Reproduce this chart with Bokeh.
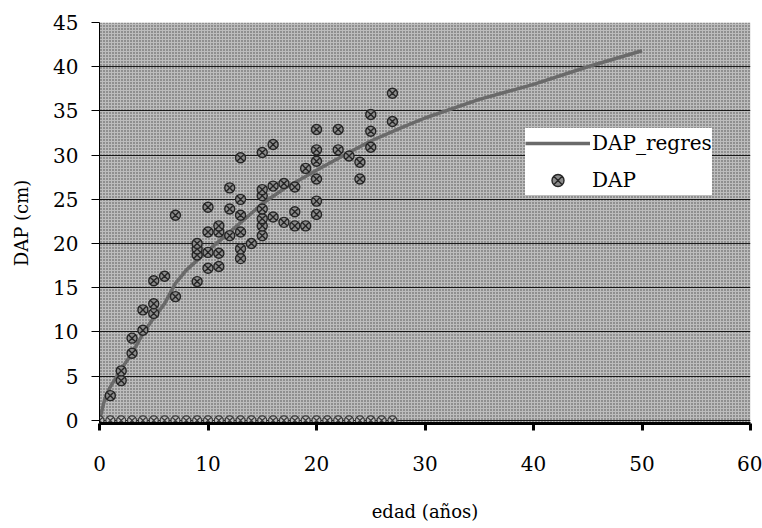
from bokeh.plotting import figure
from bokeh.models import Range1d, FixedTicker, BoxAnnotation, Legend, LegendItem
from bokeh.embed import file_html
from bokeh.resources import INLINE

# --- data ---
edad = [1, 2, 2, 3, 3, 4, 4, 5, 5, 5, 6, 7, 7,
        9, 9, 9, 9, 10, 10, 10, 10, 11, 11, 11, 11,
        12, 12, 12, 13, 13, 13, 13, 13, 13, 14,
        15, 15, 15, 15, 15, 15, 15, 16, 16, 16, 17, 17,
        18, 18, 18, 19, 19, 20, 20, 20, 20, 20, 20,
        22, 22, 23, 24, 24, 25, 25, 25, 27, 27]
dap = [2.8, 4.5, 5.6, 7.6, 9.3, 10.2, 12.5, 12.1, 13.2, 15.8, 16.3, 14.0, 23.2,
       15.7, 18.7, 19.4, 20.0, 17.2, 19.0, 21.3, 24.1, 17.4, 18.9, 21.3, 22.0,
       20.9, 23.9, 26.3, 18.3, 19.4, 21.3, 23.2, 25.0, 29.7, 20.0,
       20.9, 22.0, 22.8, 23.9, 25.4, 26.1, 30.3, 23.0, 26.5, 31.2, 22.4, 26.8,
       22.0, 23.6, 26.4, 22.0, 28.5, 23.3, 24.8, 27.3, 29.3, 30.6, 32.9,
       30.6, 32.9, 29.9, 27.3, 29.2, 30.9, 32.7, 34.6, 33.8, 37.0]

edad_cero = [0, 1, 2, 3, 4, 5, 6, 7, 8, 9, 10, 11, 12, 13,
             14, 15, 16, 17, 18, 19, 20, 21, 22, 23, 24, 25, 26, 27]
dap_cero = [0, 0, 0, 0, 0, 0, 0, 0, 0, 0, 0, 0, 0, 0,
            0, 0, 0, 0, 0, 0, 0, 0, 0, 0, 0, 0, 0, 0]

reg_edad = [0, 0.5, 1, 2, 3, 4, 5, 6, 7, 8, 10, 12, 15, 17, 20, 23, 25, 28, 30, 35, 40, 45, 50]
reg_dap = [0, 2.5, 3.8, 5.8, 7.6, 9.8, 11.6, 13.2, 15.5, 17.0, 19.2, 21.3, 24.5, 26.2,
           28.3, 30.3, 31.6, 33.2, 34.2, 36.3, 38.0, 40.0, 41.8]

x_ticks = [0, 10, 20, 30, 40, 50, 60]
y_ticks = [0, 5, 10, 15, 20, 25, 30, 35, 40, 45]

FONT = "DejaVu Serif"

p = figure(width=762, height=528, output_backend="svg", toolbar_location=None,
           x_range=Range1d(0, 60), y_range=Range1d(-0.35, 45),
           min_border_left=99, min_border_right=12, min_border_top=22,
           min_border_bottom=105)
p.outline_line_color = None
p.background_fill_color = "white"
p.border_fill_color = "white"

# dotted grey plot area
bg = BoxAnnotation(left=0, right=60, bottom=-0.35, top=45, level="image",
                   fill_color="#bdbdbd", fill_alpha=1.0, line_color=None,
                   hatch_pattern="dot", hatch_color="#333333", hatch_scale=3,
                   hatch_weight=1, hatch_alpha=0.85)
p.add_layout(bg)

# grid
p.xgrid.grid_line_color = None
p.ygrid.ticker = FixedTicker(ticks=y_ticks)
p.ygrid.grid_line_color = "black"
p.ygrid.grid_line_width = 1
p.ygrid.grid_line_alpha = 0.85

# axes
p.xaxis.ticker = FixedTicker(ticks=x_ticks)
p.yaxis.ticker = FixedTicker(ticks=y_ticks)
for ax in (p.xaxis, p.yaxis):
    ax.axis_line_color = "black"
    ax.major_tick_line_color = "black"
    ax.minor_tick_line_color = None
    ax.major_tick_in = 0
    ax.major_label_text_font = FONT
    ax.major_label_text_font_size = "20px"
    ax.major_label_text_color = "black"
    ax.axis_label_text_font = FONT
    ax.axis_label_text_font_size = "18px"
    ax.axis_label_text_font_style = "normal"
    ax.axis_label_text_color = "black"

p.xaxis.axis_line_width = 3
p.xaxis.major_tick_line_width = 3
p.xaxis.major_tick_out = 7
p.xaxis.major_label_standoff = 25
p.xaxis.axis_label = "edad (años)"
p.xaxis.axis_label_standoff = 27

p.yaxis.axis_line_width = 1
p.yaxis.major_tick_line_width = 1
p.yaxis.major_tick_out = 8
p.yaxis.major_label_standoff = 13
p.yaxis.axis_label = "DAP (cm)"
p.yaxis.axis_label_standoff = 18

# regression curve
r_line = p.line(reg_edad, reg_dap, line_color="#6a6a6a", line_width=3.5)

# zero points along the axis
p.scatter(edad_cero, dap_cero, marker="circle_x", size=9,
          line_color="#3a3a3a", fill_color="#bbbbbb", line_width=1.2)

# observed points
r_pts = p.scatter(edad, dap, marker="circle_x", size=10,
                  line_color="#262626", fill_color="#8c8c8c", line_width=1.4)

legend = Legend(items=[LegendItem(label="DAP_regres", renderers=[r_line]),
                       LegendItem(label="DAP", renderers=[r_pts])],
                location=(426, 228), orientation="vertical",
                background_fill_color="white", background_fill_alpha=1.0,
                border_line_color=None, padding=5, margin=0, spacing=7,
                glyph_width=65, glyph_height=30, label_standoff=2,
                label_text_font=FONT, label_text_font_size="20px",
                label_text_color="black")
p.add_layout(legend, "center")

open("out.html", "w").write(file_html(p, INLINE))
